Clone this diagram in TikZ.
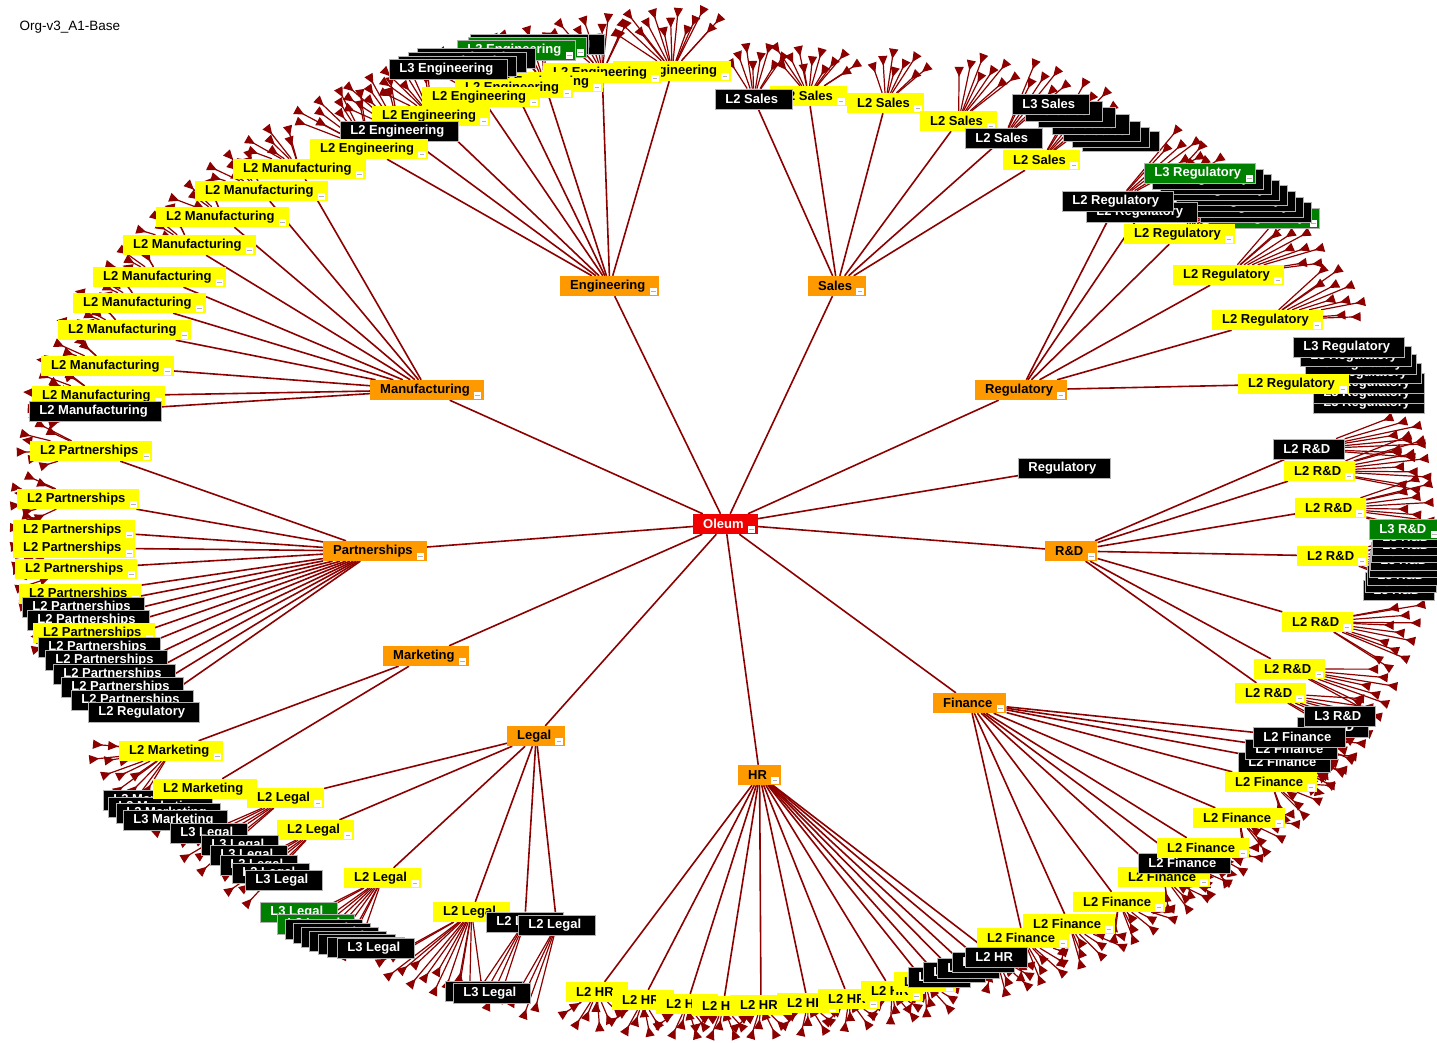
\documentclass[tikz,border=0pt]{standalone}
\usepackage{fontspec}
\setmainfont{Liberation Sans}
\usetikzlibrary{arrows.meta}
\definecolor{linkred}{RGB}{140,0,0}
\definecolor{nodeyellow}{RGB}{255,255,0}
\definecolor{nodeorange}{RGB}{255,153,0}
\definecolor{nodegreen}{RGB}{0,128,0}
\definecolor{rootred}{RGB}{240,0,0}
\pgfdeclarelayer{paper}
\pgfdeclarelayer{links}
\pgfsetlayers{paper,links,main}
\tikzset{
  box/.style={anchor=west,minimum height=20pt,inner xsep=10pt,inner ysep=0pt,
    font=\fontsize{13}{15}\selectfont\bfseries,execute at end node={\hspace*{4pt}}},
  yel/.style={box,fill=nodeyellow,text=black},
  blk/.style={box,fill=black,text=white,draw=black!30,line width=0.8pt},
  grn/.style={box,fill=nodegreen,text=white,draw=black!30,line width=0.8pt},
  org/.style={box,fill=nodeorange,text=black},
  rootbox/.style={box,fill=rootred,text=white},
  link/.style={draw=linkred,line width=1.6pt},
  twig/.style={draw=linkred,line width=1.2pt,-{Triangle[reversed,length=10pt,width=9pt]}},
}
% node placed by its left edge and vertical centre (pixel-style coordinates)
\newcommand\nd[5]{\node[#1] (#2) at (#3,-#4) {#5};}
% small collapse box in the lower right corner of a node
\newcommand\minusbox[1]{%
  \fill[white] ([xshift=-10pt,yshift=1.5pt]#1.south east) rectangle ([xshift=-2.5pt,yshift=8pt]#1.south east);
  \draw[black!30,line width=0.9pt] ([xshift=-8.5pt,yshift=4.5pt]#1.south east) -- ([xshift=-4pt,yshift=4.5pt]#1.south east);}
\newcommand\ndm[5]{\nd{#1}{#2}{#3}{#4}{#5}\minusbox{#2}}
% fan of leaf links from a node out towards the rim ellipse
% #1 node, #2 number of leaves, #3 angular step, #4 reach (1 = rim)
\newcommand\twigs[4]{%
  \pgfpointanchor{#1}{center}\pgfgetlastxy{\twx}{\twy}%
  \pgfmathsetmacro\twa{atan2((\twy+523pt)/516,(\twx-722pt)/712)}%
  \foreach \k in {1,...,#2}{%
    \pgfmathsetmacro\twb{\twa+(\k-(#2+1)/2)*#3}%
    \pgfmathsetmacro\twr{#4*(1-0.018*mod(\k,3))}%
    \coordinate (tw) at ({722+712*\twr*cos(\twb)},{-523+516*\twr*sin(\twb)});
    \draw[twig] (#1) -- (tw);
  }}
\begin{document}
\begin{tikzpicture}[x=1pt,y=1pt]
\begin{pgfonlayer}{paper}
\fill[white] (0,0) rectangle (1437,-1043);
\end{pgfonlayer}
\useasboundingbox (0,0) rectangle (1437,-1043);
\node[anchor=west,font=\fontsize{13.5}{16}\selectfont] (title) at (16,-27) {Org-v3\_A1-Base};

% root and first level
\ndm{rootbox}{oleum}{693}{524}{Oleum}
\ndm{org}{eng}{560}{286}{Engineering}
\ndm{org}{sal}{808}{286}{Sales}
\ndm{org}{reg}{975}{390}{Regulatory}
\ndm{org}{rnd}{1045}{551}{R\&D}
\ndm{org}{fin}{933}{703}{Finance}
\ndm{org}{hr}{738}{775}{HR}
\ndm{org}{leg}{507}{736}{Legal}
\ndm{org}{mkt}{383}{656}{Marketing}
\ndm{org}{par}{323}{551}{Partnerships}
\ndm{org}{mfg}{370}{390}{Manufacturing}
\nd{blk}{regb}{1018}{468}{Regulatory}

% Engineering
\ndm{yel}{e1}{613}{71}{L2 Engineering}
\ndm{yel}{e2}{543}{73}{L2 Engineering}
\ndm{yel}{e3}{485}{82}{L2 Engineering}
\ndm{yel}{e4}{455}{88}{L2 Engineering}
\nd{blk}{ge1}{486}{44}{L3 Engineering}
\nd{blk}{ge2}{470}{44}{L3 Engineering}
\ndm{grn}{ge3}{468}{47}{L3 Engineering}
\ndm{grn}{ge4}{457}{50}{L3 Engineering}
\foreach \i/\x/\y in {1/417/58,2/408/62,3/398/66,4/389/69}{\nd{blk}{ke\i}{\x}{\y}{L3 Engineering}}
\ndm{yel}{e5}{422}{97}{L2 Engineering}
\ndm{yel}{e6}{372}{116}{L2 Engineering}
\nd{blk}{e7}{340}{131}{L2 Engineering}
\ndm{yel}{e8}{310}{149}{L2 Engineering}

% Sales
\ndm{yel}{s1}{770}{96}{L2 Sales}
\nd{blk}{s2}{715}{99}{L2 Sales}
\ndm{yel}{s3}{847}{103}{L2 Sales}
\ndm{yel}{s4}{920}{121}{L2 Sales}
\foreach \i/\x/\y in {1/1082/141,2/1072/137,3/1063/131,4/1052/124,5/1038/117,6/1025/111,7/1012/104}{\nd{blk}{ls\i}{\x}{\y}{L3 Sales}}
\nd{blk}{s5}{965}{138}{L2 Sales}
\ndm{yel}{s6}{1003}{160}{L2 Sales}

% Regulatory
\ndm{grn}{lr0}{1208}{218}{L3 Regulatory}
\foreach \i/\x/\y in {1/1200/212,2/1192/207,3/1184/201,4/1176/195,5/1168/190,6/1160/184,7/1152/179}{\nd{blk}{lr\i}{\x}{\y}{L3 Regulatory}}
\ndm{grn}{lr8}{1144}{173}{L3 Regulatory}
\nd{blk}{r1}{1086}{212}{L2 Regulatory}
\nd{blk}{r2}{1062}{201}{L2 Regulatory}
\ndm{yel}{r3}{1124}{234}{L2 Regulatory}
\ndm{yel}{r4}{1173}{275}{L2 Regulatory}
\ndm{yel}{r5}{1212}{320}{L2 Regulatory}
\foreach \i/\x/\y in {1/1313/403,2/1313/393,3/1313/383,4/1310/373,5/1305/364,6/1300/356,7/1293/347}{\nd{blk}{lq\i}{\x}{\y}{L3 Regulatory}}
\ndm{yel}{r6}{1238}{384}{L2 Regulatory}

% R&D
\nd{blk}{d1}{1273}{449}{L2 R\&D}
\ndm{yel}{d2}{1284}{471}{L2 R\&D}
\ndm{yel}{d3}{1295}{508}{L2 R\&D}
\foreach \i/\x/\y in {1/1363/590,2/1365/582,3/1367/575,4/1369/567,5/1370/560,6/1371/552,7/1372/545,8/1372/537}{\nd{blk}{ld\i}{\x}{\y}{L3 R\&D}}
\ndm{grn}{lg}{1369}{529}{L3 R\&D}
\ndm{yel}{d4}{1297}{556}{L2 R\&D}
\ndm{yel}{d5}{1282}{622}{L2 R\&D}
\ndm{yel}{d6}{1254}{669}{L2 R\&D}
\ndm{yel}{d7}{1235}{693}{L2 R\&D}

% Finance
\ndm{yel}{f1}{977}{938}{L2 Finance}
\ndm{yel}{f2}{1023}{924}{L2 Finance}
\ndm{yel}{f3}{1073}{902}{L2 Finance}
\ndm{yel}{f4}{1118}{877}{L2 Finance}
\nd{blk}{f5}{1138}{863}{L2 Finance}
\ndm{yel}{f6}{1157}{848}{L2 Finance}
\ndm{yel}{f7}{1193}{818}{L2 Finance}
\nd{blk}{lt1}{1297}{727}{L3 R\&D}
\nd{blk}{lt2}{1304}{716}{L3 R\&D}
\nd{blk}{f8}{1238}{762}{L2 Finance}
\nd{blk}{f9}{1245}{749}{L2 Finance}
\nd{blk}{f10}{1253}{737}{L2 Finance}
\ndm{yel}{f11}{1225}{782}{L2 Finance}

% HR
\foreach \i/\x/\y in {1/566/992,2/612/1000,3/656/1004,4/692/1006,5/730/1005,6/777/1003,7/818/999,8/861/991,9/894/982}{\ndm{yel}{h\i}{\x}{\y}{L2 HR}}
\foreach \i/\x/\y in {1/908/977,2/923/972,3/937/968,4/952/962,5/965/957}{\nd{blk}{hb\i}{\x}{\y}{L2 HR}}

% Marketing and Legal
\ndm{yel}{m1}{119}{751}{L2 Marketing}
\foreach \i/\x/\y in {1/103/800,2/108/807,3/116/813,4/123/820}{\nd{blk}{lm\i}{\x}{\y}{L3 Marketing}}
\ndm{yel}{m2}{153}{789}{L2 Marketing}
\ndm{yel}{l1}{247}{798}{L2 Legal}
\ndm{yel}{l2}{277}{830}{L2 Legal}
\foreach \i/\x/\y in {6/170/833,5/201/845,4/210/855,3/220/865,2/232/873,1/245/880}{\nd{blk}{la\i}{\x}{\y}{L3 Legal}}
\ndm{yel}{l3}{344}{878}{L2 Legal}
\ndm{grn}{lb1}{260}{912}{L3 Legal}
\ndm{grn}{lb2}{277}{924}{L3 Legal}
\foreach \i/\x/\y in {3/285/929,4/293/933,5/301/937,6/309/941,7/318/944,8/327/947,9/337/948}{\nd{blk}{lb\i}{\x}{\y}{L3 Legal}}
\ndm{yel}{l4}{433}{912}{L2 Legal}
\nd{blk}{l5}{486}{922}{L2 Legal}
\nd{blk}{l6}{518}{925}{L2 Legal}
\nd{blk}{lc1}{445}{991}{L3 Legal}
\nd{blk}{lc2}{453}{993}{L3 Legal}

% Partnerships
\ndm{yel}{p1}{30}{451}{L2 Partnerships}
\ndm{yel}{p2}{17}{499}{L2 Partnerships}
\ndm{yel}{p3}{13}{530}{L2 Partnerships}
\ndm{yel}{p4}{13}{548}{L2 Partnerships}
\ndm{yel}{p5}{15}{569}{L2 Partnerships}
\ndm{yel}{p6}{19}{594}{L2 Partnerships}
\nd{blk}{p7}{22}{607}{L2 Partnerships}
\nd{blk}{p8}{27}{620}{L2 Partnerships}
\ndm{yel}{p9}{33}{633}{L2 Partnerships}
\foreach \i/\x/\y in {10/38/647,11/45/660,12/53/674,13/61/687,14/71/700}{\nd{blk}{p\i}{\x}{\y}{L2 Partnerships}}
\nd{blk}{p15}{88}{712}{L2 Regulatory}

% Manufacturing
\foreach \i/\x/\y in {1/233/169,2/195/191,3/156/217,4/123/245,5/93/277,6/73/303,7/58/330,8/41/366,9/32/396}{\ndm{yel}{n\i}{\x}{\y}{L2 Manufacturing}}
\nd{blk}{n10}{29}{411}{L2 Manufacturing}

\begin{pgfonlayer}{links}
  \foreach \c in {eng,sal,reg,regb,rnd,fin,hr,leg,mkt,par,mfg} \draw[link] (oleum) -- (\c);
  \foreach \i in {1,...,8} \draw[link] (eng) -- (e\i);
  \foreach \i in {1,...,6} \draw[link] (sal) -- (s\i);
  \foreach \i in {1,...,6} \draw[link] (reg) -- (r\i);
  \foreach \i in {1,...,7} \draw[link] (rnd) -- (d\i);
  \foreach \i in {1,...,11} \draw[link] (fin) -- (f\i);
  \foreach \i in {1,...,9} \draw[link] (hr) -- (h\i);
  \foreach \i in {1,...,5} \draw[link] (hr) -- (hb\i);
  \foreach \i in {1,...,6} \draw[link] (leg) -- (l\i);
  \foreach \i in {1,2} \draw[link] (mkt) -- (m\i);
  \foreach \i in {1,...,15} \draw[link] (par) -- (p\i);
  \foreach \i in {1,...,10} \draw[link] (mfg) -- (n\i);

  \foreach \i/\cnt/\rr in {1/14/1,2/10/1,3/6/1,4/6/1,5/8/1,6/8/1,7/8/1,8/10/1}{\twigs{e\i}{\cnt}{0.7}{\rr}}
  \foreach \i/\cnt/\rr in {1/12/0.93,2/8/0.93,3/8/0.95,4/8/0.98,5/6/1,6/6/1}{\twigs{s\i}{\cnt}{0.7}{\rr}}
  \foreach \i/\cnt in {1/6,2/6,3/8,4/10,5/10,6/8}{\twigs{r\i}{\cnt}{0.7}{1}}
  \foreach \i/\cnt in {1/8,2/10,3/10,4/10,5/12,6/8,7/8}{\twigs{d\i}{\cnt}{0.7}{1}}
  \foreach \i/\cnt in {1/8,2/10,3/10,4/8,5/8,6/10,7/10,8/6,9/6,10/6,11/10}{\twigs{f\i}{\cnt}{0.7}{1}}
  \foreach \i in {1,...,9}{\twigs{h\i}{8}{0.7}{1}}
  \twigs{hb5}{8}{0.7}{1}
  \foreach \i/\cnt in {1/6,2/6,3/10,4/14,5/4,6/4}{\twigs{l\i}{\cnt}{0.7}{1}}
  \foreach \i/\cnt in {1/12,2/6}{\twigs{m\i}{\cnt}{0.7}{1}}
  \foreach \i/\cnt in {1/8,2/8,3/6,4/6,5/6,6/3,9/3}{\twigs{p\i}{\cnt}{0.7}{1}}
  \foreach \i in {1,...,10}{\twigs{n\i}{8}{0.7}{1}}
\end{pgfonlayer}
\end{tikzpicture}
\end{document}
